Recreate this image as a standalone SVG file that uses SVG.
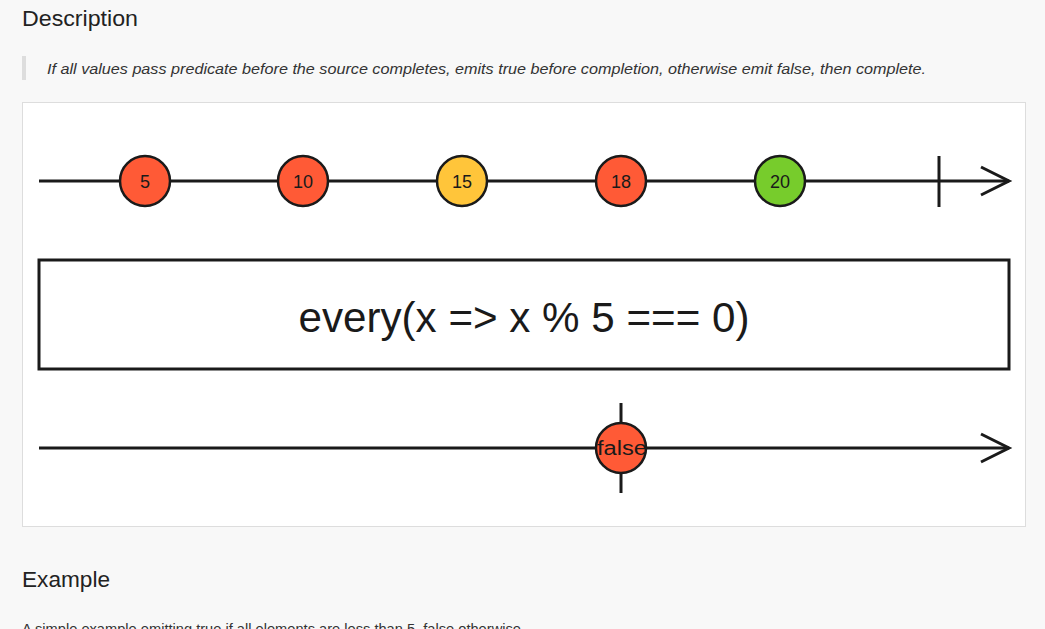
<svg xmlns="http://www.w3.org/2000/svg" width="1045" height="629" viewBox="0 0 1045 629">
<style>
.h{font-family:"Liberation Sans",Arial,sans-serif;font-size:22px;fill:#222}
.q{font-family:"Liberation Sans",Arial,sans-serif;font-size:14px;font-style:italic;fill:#333}
.p{font-family:"Liberation Sans",Arial,sans-serif;font-size:14px;fill:#333}
.ln{stroke:#1a1a1a;stroke-width:3;fill:none}
.mb{stroke:#1a1a1a;stroke-width:2.5;}
.v{font-family:"Liberation Sans",Arial,sans-serif;font-size:18px;fill:#1a1a1a;text-anchor:middle}
.red{fill:#ff5a36}.yel{fill:#ffc53a}.grn{fill:#77cc2c}
</style>
<rect width="1045" height="629" fill="#f8f8f8"/>
<text class="h" x="22" y="26" textLength="116" lengthAdjust="spacingAndGlyphs">Description</text>
<rect x="22" y="56" width="4" height="24" fill="#dddddd"/>
<text class="q" x="47" y="74" textLength="879" lengthAdjust="spacingAndGlyphs">If all values pass predicate before the source completes, emits true before completion, otherwise emit false, then complete.</text>
<rect x="22.5" y="102.5" width="1003" height="424" fill="#ffffff" stroke="#dddddd"/>
<g id="connectors">
<line class="ln" x1="39" y1="181" x2="1009" y2="181"/>
<polyline class="ln" points="981,167 1009,181 981,195"/>
<line class="ln" x1="939" y1="156" x2="939" y2="207"/>
<line class="ln" x1="39" y1="448" x2="1009" y2="448"/>
<polyline class="ln" points="981,434 1009,448 981,462"/>
<line class="ln" x1="621" y1="403" x2="621" y2="493"/>
</g>
<g id="n5"><circle class="mb red" cx="145" cy="181" r="25"/><text class="v" x="145" y="188">5</text></g>
<g id="n10"><circle class="mb red" cx="303" cy="181" r="25"/><text class="v" x="303" y="188">10</text></g>
<g id="n15"><circle class="mb yel" cx="462" cy="181" r="25"/><text class="v" x="462" y="188">15</text></g>
<g id="n18"><circle class="mb red" cx="621" cy="181" r="25"/><text class="v" x="621" y="188">18</text></g>
<g id="n20"><circle class="mb grn" cx="780" cy="181" r="25"/><text class="v" x="780" y="188">20</text></g>
<g id="op"><rect x="39" y="260" width="970" height="109" fill="#ffffff" stroke="#1a1a1a" stroke-width="3"/>
<text x="524" y="332" font-family="'Liberation Sans',Arial,sans-serif" font-size="42" fill="#1a1a1a" text-anchor="middle" textLength="451" lengthAdjust="spacingAndGlyphs">every(x =&gt; x % 5 === 0)</text></g>
<g id="nfalse"><circle class="mb red" cx="621" cy="448" r="25"/><text x="622" y="455" font-family="'Liberation Sans',Arial,sans-serif" font-size="20" fill="#1a1a1a" text-anchor="middle" textLength="50" lengthAdjust="spacingAndGlyphs">false</text></g>
<text class="h" x="22" y="587" textLength="88" lengthAdjust="spacingAndGlyphs">Example</text>
<text class="p" x="22" y="634" textLength="503" lengthAdjust="spacingAndGlyphs">A simple example emitting true if all elements are less than 5, false otherwise.</text>
</svg>
